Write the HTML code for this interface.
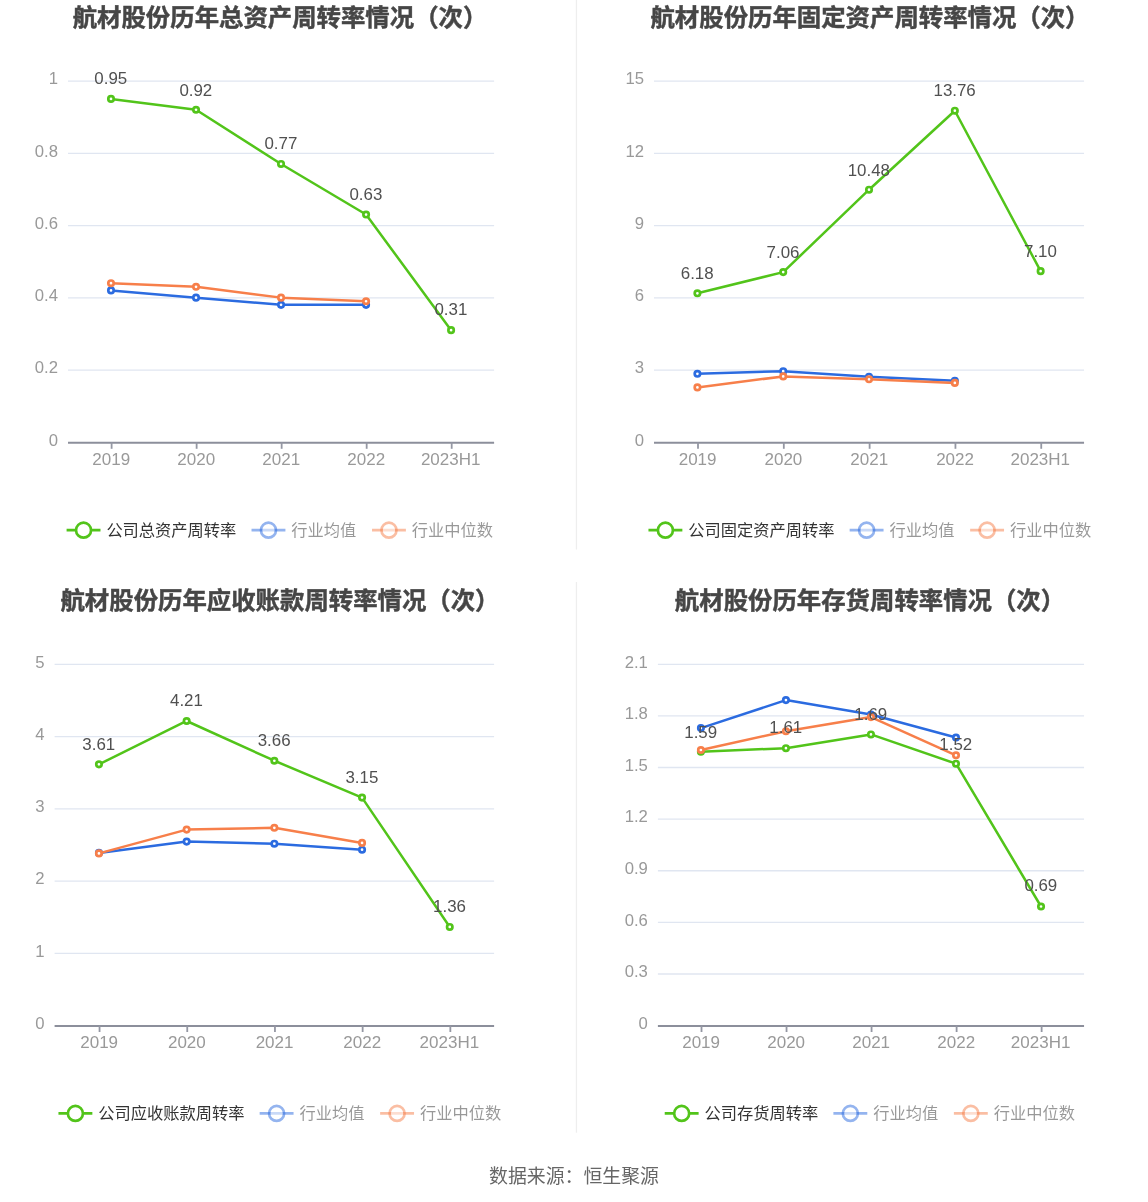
<!DOCTYPE html>
<html lang="zh-CN">
<head>
<meta charset="utf-8">
<title>航材股份历年周转率情况</title>
<style>
html,body{margin:0;padding:0;background:#fff;}
body{width:1148px;height:1202px;overflow:hidden;}
svg{display:block;font-family:"Liberation Sans", "Noto Sans CJK SC", sans-serif;}
</style>
</head>
<body>
<svg width="1148" height="1202" viewBox="0 0 1148 1202">
<rect width="1148" height="1202" fill="#fff"/>
<g>
<text x="280" y="25.7" text-anchor="middle" font-size="24.4" font-weight="bold" fill="#464646" stroke="#464646" stroke-width="0.45">航材股份历年总资产周转率情况（次）</text>
<text x="58.0" y="445.70" text-anchor="end" font-size="16.7" fill="#999">0</text>
<line x1="68.00" x2="494.10" y1="370.14" y2="370.14" stroke="#e0e6f1" stroke-width="1.35"/>
<text x="58.0" y="373.44" text-anchor="end" font-size="16.7" fill="#999">0.2</text>
<line x1="68.00" x2="494.10" y1="297.88" y2="297.88" stroke="#e0e6f1" stroke-width="1.35"/>
<text x="58.0" y="301.18" text-anchor="end" font-size="16.7" fill="#999">0.4</text>
<line x1="68.00" x2="494.10" y1="225.62" y2="225.62" stroke="#e0e6f1" stroke-width="1.35"/>
<text x="58.0" y="228.92" text-anchor="end" font-size="16.7" fill="#999">0.6</text>
<line x1="68.00" x2="494.10" y1="153.36" y2="153.36" stroke="#e0e6f1" stroke-width="1.35"/>
<text x="58.0" y="156.66" text-anchor="end" font-size="16.7" fill="#999">0.8</text>
<line x1="68.00" x2="494.10" y1="81.10" y2="81.10" stroke="#e0e6f1" stroke-width="1.35"/>
<text x="58.0" y="84.40" text-anchor="end" font-size="16.7" fill="#999">1</text>
<line x1="68.00" x2="494.10" y1="442.75" y2="442.75" stroke="#8c8f9b" stroke-width="2.0"/>
<line x1="111.61" x2="111.61" y1="442.40" y2="448.80" stroke="#9497a3" stroke-width="1.8"/>
<text x="111.21" y="464.65" text-anchor="middle" font-size="17" fill="#999">2019</text>
<line x1="196.63" x2="196.63" y1="442.40" y2="448.80" stroke="#9497a3" stroke-width="1.8"/>
<text x="196.23" y="464.65" text-anchor="middle" font-size="17" fill="#999">2020</text>
<line x1="281.65" x2="281.65" y1="442.40" y2="448.80" stroke="#9497a3" stroke-width="1.8"/>
<text x="281.25" y="464.65" text-anchor="middle" font-size="17" fill="#999">2021</text>
<line x1="366.67" x2="366.67" y1="442.40" y2="448.80" stroke="#9497a3" stroke-width="1.8"/>
<text x="366.27" y="464.65" text-anchor="middle" font-size="17" fill="#999">2022</text>
<line x1="451.69" x2="451.69" y1="442.40" y2="448.80" stroke="#9497a3" stroke-width="1.8"/>
<text x="450.69" y="464.65" text-anchor="middle" font-size="17" fill="#999">2023H1</text>
<polyline points="111.01,98.92 196.03,109.75 281.05,163.95 366.07,214.53 451.09,330.15" fill="none" stroke="#52c41a" stroke-width="2.5" stroke-linejoin="bevel"/>
<circle cx="111.01" cy="98.92" r="2.7" fill="#fff" stroke="#52c41a" stroke-width="2.7"/>
<circle cx="196.03" cy="109.75" r="2.7" fill="#fff" stroke="#52c41a" stroke-width="2.7"/>
<circle cx="281.05" cy="163.95" r="2.7" fill="#fff" stroke="#52c41a" stroke-width="2.7"/>
<circle cx="366.07" cy="214.53" r="2.7" fill="#fff" stroke="#52c41a" stroke-width="2.7"/>
<circle cx="451.09" cy="330.15" r="2.7" fill="#fff" stroke="#52c41a" stroke-width="2.7"/>
<polyline points="111.01,290.40 196.03,297.63 281.05,304.86 366.07,304.86" fill="none" stroke="#2b6be0" stroke-width="2.5" stroke-linejoin="bevel"/>
<circle cx="111.01" cy="290.40" r="2.7" fill="#fff" stroke="#2b6be0" stroke-width="2.7"/>
<circle cx="196.03" cy="297.63" r="2.7" fill="#fff" stroke="#2b6be0" stroke-width="2.7"/>
<circle cx="281.05" cy="304.86" r="2.7" fill="#fff" stroke="#2b6be0" stroke-width="2.7"/>
<circle cx="366.07" cy="304.86" r="2.7" fill="#fff" stroke="#2b6be0" stroke-width="2.7"/>
<polyline points="111.01,283.18 196.03,286.79 281.05,297.63 366.07,301.24" fill="none" stroke="#f77f4a" stroke-width="2.5" stroke-linejoin="bevel"/>
<circle cx="111.01" cy="283.18" r="2.7" fill="#fff" stroke="#f77f4a" stroke-width="2.7"/>
<circle cx="196.03" cy="286.79" r="2.7" fill="#fff" stroke="#f77f4a" stroke-width="2.7"/>
<circle cx="281.05" cy="297.63" r="2.7" fill="#fff" stroke="#f77f4a" stroke-width="2.7"/>
<circle cx="366.07" cy="301.24" r="2.7" fill="#fff" stroke="#f77f4a" stroke-width="2.7"/>
<text x="110.81" y="84.07" text-anchor="middle" font-size="16.9" fill="#505050">0.95</text>
<text x="195.83" y="95.60" text-anchor="middle" font-size="16.9" fill="#505050">0.92</text>
<text x="280.85" y="148.90" text-anchor="middle" font-size="16.9" fill="#505050">0.77</text>
<text x="365.87" y="200.08" text-anchor="middle" font-size="16.9" fill="#505050">0.63</text>
<text x="450.89" y="314.80" text-anchor="middle" font-size="16.9" fill="#505050">0.31</text>
<line x1="66.59" x2="100.49" y1="530.20" y2="530.20" stroke="#52c41a" stroke-width="2.7"/>
<circle cx="83.54" cy="530.20" r="7.5" fill="#fff" stroke="#52c41a" stroke-width="2.7"/>
<text x="106.39" y="536.10" font-size="16.26" fill="#333">公司总资产周转率</text>
<line x1="251.52" x2="285.42" y1="530.20" y2="530.20" stroke="#2b6be0" stroke-width="2.7" opacity="0.5"/>
<circle cx="268.47" cy="530.20" r="7.5" fill="#fff" stroke="#2b6be0" stroke-width="2.7" opacity="0.5"/>
<text x="291.32" y="536.10" font-size="16.26" fill="#333" opacity="0.5">行业均值</text>
<line x1="372.01" x2="405.91" y1="530.20" y2="530.20" stroke="#f77f4a" stroke-width="2.7" opacity="0.5"/>
<circle cx="388.96" cy="530.20" r="7.5" fill="#fff" stroke="#f77f4a" stroke-width="2.7" opacity="0.5"/>
<text x="411.81" y="536.10" font-size="16.26" fill="#333" opacity="0.5">行业中位数</text>
</g>
<g>
<text x="870" y="25.7" text-anchor="middle" font-size="24.4" font-weight="bold" fill="#464646" stroke="#464646" stroke-width="0.45">航材股份历年固定资产周转率情况（次）</text>
<text x="644.0" y="445.70" text-anchor="end" font-size="16.7" fill="#999">0</text>
<line x1="654.00" x2="1084.05" y1="370.14" y2="370.14" stroke="#e0e6f1" stroke-width="1.35"/>
<text x="644.0" y="373.44" text-anchor="end" font-size="16.7" fill="#999">3</text>
<line x1="654.00" x2="1084.05" y1="297.88" y2="297.88" stroke="#e0e6f1" stroke-width="1.35"/>
<text x="644.0" y="301.18" text-anchor="end" font-size="16.7" fill="#999">6</text>
<line x1="654.00" x2="1084.05" y1="225.62" y2="225.62" stroke="#e0e6f1" stroke-width="1.35"/>
<text x="644.0" y="228.92" text-anchor="end" font-size="16.7" fill="#999">9</text>
<line x1="654.00" x2="1084.05" y1="153.36" y2="153.36" stroke="#e0e6f1" stroke-width="1.35"/>
<text x="644.0" y="156.66" text-anchor="end" font-size="16.7" fill="#999">12</text>
<line x1="654.00" x2="1084.05" y1="81.10" y2="81.10" stroke="#e0e6f1" stroke-width="1.35"/>
<text x="644.0" y="84.40" text-anchor="end" font-size="16.7" fill="#999">15</text>
<line x1="654.00" x2="1084.05" y1="442.75" y2="442.75" stroke="#8c8f9b" stroke-width="2.0"/>
<line x1="698.00" x2="698.00" y1="442.40" y2="448.80" stroke="#9497a3" stroke-width="1.8"/>
<text x="697.61" y="464.65" text-anchor="middle" font-size="17" fill="#999">2019</text>
<line x1="783.81" x2="783.81" y1="442.40" y2="448.80" stroke="#9497a3" stroke-width="1.8"/>
<text x="783.41" y="464.65" text-anchor="middle" font-size="17" fill="#999">2020</text>
<line x1="869.62" x2="869.62" y1="442.40" y2="448.80" stroke="#9497a3" stroke-width="1.8"/>
<text x="869.23" y="464.65" text-anchor="middle" font-size="17" fill="#999">2021</text>
<line x1="955.44" x2="955.44" y1="442.40" y2="448.80" stroke="#9497a3" stroke-width="1.8"/>
<text x="955.04" y="464.65" text-anchor="middle" font-size="17" fill="#999">2022</text>
<line x1="1041.24" x2="1041.24" y1="442.40" y2="448.80" stroke="#9497a3" stroke-width="1.8"/>
<text x="1040.25" y="464.65" text-anchor="middle" font-size="17" fill="#999">2023H1</text>
<polyline points="697.40,293.29 783.21,272.10 869.02,189.72 954.84,110.72 1040.64,271.13" fill="none" stroke="#52c41a" stroke-width="2.5" stroke-linejoin="bevel"/>
<circle cx="697.40" cy="293.29" r="2.7" fill="#fff" stroke="#52c41a" stroke-width="2.7"/>
<circle cx="783.21" cy="272.10" r="2.7" fill="#fff" stroke="#52c41a" stroke-width="2.7"/>
<circle cx="869.02" cy="189.72" r="2.7" fill="#fff" stroke="#52c41a" stroke-width="2.7"/>
<circle cx="954.84" cy="110.72" r="2.7" fill="#fff" stroke="#52c41a" stroke-width="2.7"/>
<circle cx="1040.64" cy="271.13" r="2.7" fill="#fff" stroke="#52c41a" stroke-width="2.7"/>
<polyline points="697.40,373.80 783.21,371.20 869.02,376.70 954.84,380.80" fill="none" stroke="#2b6be0" stroke-width="2.5" stroke-linejoin="bevel"/>
<circle cx="697.40" cy="373.80" r="2.7" fill="#fff" stroke="#2b6be0" stroke-width="2.7"/>
<circle cx="783.21" cy="371.20" r="2.7" fill="#fff" stroke="#2b6be0" stroke-width="2.7"/>
<circle cx="869.02" cy="376.70" r="2.7" fill="#fff" stroke="#2b6be0" stroke-width="2.7"/>
<circle cx="954.84" cy="380.80" r="2.7" fill="#fff" stroke="#2b6be0" stroke-width="2.7"/>
<polyline points="697.40,387.40 783.21,376.40 869.02,379.30 954.84,382.90" fill="none" stroke="#f77f4a" stroke-width="2.5" stroke-linejoin="bevel"/>
<circle cx="697.40" cy="387.40" r="2.7" fill="#fff" stroke="#f77f4a" stroke-width="2.7"/>
<circle cx="783.21" cy="376.40" r="2.7" fill="#fff" stroke="#f77f4a" stroke-width="2.7"/>
<circle cx="869.02" cy="379.30" r="2.7" fill="#fff" stroke="#f77f4a" stroke-width="2.7"/>
<circle cx="954.84" cy="382.90" r="2.7" fill="#fff" stroke="#f77f4a" stroke-width="2.7"/>
<text x="697.20" y="278.64" text-anchor="middle" font-size="16.9" fill="#505050">6.18</text>
<text x="783.01" y="257.65" text-anchor="middle" font-size="16.9" fill="#505050">7.06</text>
<text x="868.82" y="175.67" text-anchor="middle" font-size="16.9" fill="#505050">10.48</text>
<text x="954.63" y="96.37" text-anchor="middle" font-size="16.9" fill="#505050">13.76</text>
<text x="1040.44" y="256.58" text-anchor="middle" font-size="16.9" fill="#505050">7.10</text>
<line x1="648.46" x2="682.36" y1="530.20" y2="530.20" stroke="#52c41a" stroke-width="2.7"/>
<circle cx="665.41" cy="530.20" r="7.5" fill="#fff" stroke="#52c41a" stroke-width="2.7"/>
<text x="688.26" y="536.10" font-size="16.26" fill="#333">公司固定资产周转率</text>
<line x1="849.65" x2="883.55" y1="530.20" y2="530.20" stroke="#2b6be0" stroke-width="2.7" opacity="0.5"/>
<circle cx="866.60" cy="530.20" r="7.5" fill="#fff" stroke="#2b6be0" stroke-width="2.7" opacity="0.5"/>
<text x="889.45" y="536.10" font-size="16.26" fill="#333" opacity="0.5">行业均值</text>
<line x1="970.14" x2="1004.04" y1="530.20" y2="530.20" stroke="#f77f4a" stroke-width="2.7" opacity="0.5"/>
<circle cx="987.09" cy="530.20" r="7.5" fill="#fff" stroke="#f77f4a" stroke-width="2.7" opacity="0.5"/>
<text x="1009.94" y="536.10" font-size="16.26" fill="#333" opacity="0.5">行业中位数</text>
</g>
<g>
<text x="280" y="608.9" text-anchor="middle" font-size="24.4" font-weight="bold" fill="#464646" stroke="#464646" stroke-width="0.45">航材股份历年应收账款周转率情况（次）</text>
<text x="44.6" y="1028.90" text-anchor="end" font-size="16.7" fill="#999">0</text>
<line x1="54.60" x2="494.10" y1="953.34" y2="953.34" stroke="#e0e6f1" stroke-width="1.35"/>
<text x="44.6" y="956.64" text-anchor="end" font-size="16.7" fill="#999">1</text>
<line x1="54.60" x2="494.10" y1="881.08" y2="881.08" stroke="#e0e6f1" stroke-width="1.35"/>
<text x="44.6" y="884.38" text-anchor="end" font-size="16.7" fill="#999">2</text>
<line x1="54.60" x2="494.10" y1="808.82" y2="808.82" stroke="#e0e6f1" stroke-width="1.35"/>
<text x="44.6" y="812.12" text-anchor="end" font-size="16.7" fill="#999">3</text>
<line x1="54.60" x2="494.10" y1="736.56" y2="736.56" stroke="#e0e6f1" stroke-width="1.35"/>
<text x="44.6" y="739.86" text-anchor="end" font-size="16.7" fill="#999">4</text>
<line x1="54.60" x2="494.10" y1="664.30" y2="664.30" stroke="#e0e6f1" stroke-width="1.35"/>
<text x="44.6" y="667.60" text-anchor="end" font-size="16.7" fill="#999">5</text>
<line x1="54.60" x2="494.10" y1="1025.95" y2="1025.95" stroke="#8c8f9b" stroke-width="2.0"/>
<line x1="99.55" x2="99.55" y1="1025.60" y2="1032.00" stroke="#9497a3" stroke-width="1.8"/>
<text x="99.15" y="1047.85" text-anchor="middle" font-size="17" fill="#999">2019</text>
<line x1="187.25" x2="187.25" y1="1025.60" y2="1032.00" stroke="#9497a3" stroke-width="1.8"/>
<text x="186.85" y="1047.85" text-anchor="middle" font-size="17" fill="#999">2020</text>
<line x1="274.95" x2="274.95" y1="1025.60" y2="1032.00" stroke="#9497a3" stroke-width="1.8"/>
<text x="274.55" y="1047.85" text-anchor="middle" font-size="17" fill="#999">2021</text>
<line x1="362.65" x2="362.65" y1="1025.60" y2="1032.00" stroke="#9497a3" stroke-width="1.8"/>
<text x="362.25" y="1047.85" text-anchor="middle" font-size="17" fill="#999">2022</text>
<line x1="450.35" x2="450.35" y1="1025.60" y2="1032.00" stroke="#9497a3" stroke-width="1.8"/>
<text x="449.35" y="1047.85" text-anchor="middle" font-size="17" fill="#999">2023H1</text>
<polyline points="98.95,764.34 186.65,720.99 274.35,760.73 362.05,797.58 449.75,926.93" fill="none" stroke="#52c41a" stroke-width="2.5" stroke-linejoin="bevel"/>
<circle cx="98.95" cy="764.34" r="2.7" fill="#fff" stroke="#52c41a" stroke-width="2.7"/>
<circle cx="186.65" cy="720.99" r="2.7" fill="#fff" stroke="#52c41a" stroke-width="2.7"/>
<circle cx="274.35" cy="760.73" r="2.7" fill="#fff" stroke="#52c41a" stroke-width="2.7"/>
<circle cx="362.05" cy="797.58" r="2.7" fill="#fff" stroke="#52c41a" stroke-width="2.7"/>
<circle cx="449.75" cy="926.93" r="2.7" fill="#fff" stroke="#52c41a" stroke-width="2.7"/>
<polyline points="98.95,852.90 186.65,841.60 274.35,843.70 362.05,849.70" fill="none" stroke="#2b6be0" stroke-width="2.5" stroke-linejoin="bevel"/>
<circle cx="98.95" cy="852.90" r="2.7" fill="#fff" stroke="#2b6be0" stroke-width="2.7"/>
<circle cx="186.65" cy="841.60" r="2.7" fill="#fff" stroke="#2b6be0" stroke-width="2.7"/>
<circle cx="274.35" cy="843.70" r="2.7" fill="#fff" stroke="#2b6be0" stroke-width="2.7"/>
<circle cx="362.05" cy="849.70" r="2.7" fill="#fff" stroke="#2b6be0" stroke-width="2.7"/>
<polyline points="98.95,853.40 186.65,829.60 274.35,827.80 362.05,842.90" fill="none" stroke="#f77f4a" stroke-width="2.5" stroke-linejoin="bevel"/>
<circle cx="98.95" cy="853.40" r="2.7" fill="#fff" stroke="#f77f4a" stroke-width="2.7"/>
<circle cx="186.65" cy="829.60" r="2.7" fill="#fff" stroke="#f77f4a" stroke-width="2.7"/>
<circle cx="274.35" cy="827.80" r="2.7" fill="#fff" stroke="#f77f4a" stroke-width="2.7"/>
<circle cx="362.05" cy="842.90" r="2.7" fill="#fff" stroke="#f77f4a" stroke-width="2.7"/>
<text x="98.75" y="749.54" text-anchor="middle" font-size="16.9" fill="#505050">3.61</text>
<text x="186.45" y="706.09" text-anchor="middle" font-size="16.9" fill="#505050">4.21</text>
<text x="274.15" y="745.73" text-anchor="middle" font-size="16.9" fill="#505050">3.66</text>
<text x="361.85" y="783.28" text-anchor="middle" font-size="16.9" fill="#505050">3.15</text>
<text x="449.55" y="911.93" text-anchor="middle" font-size="16.9" fill="#505050">1.36</text>
<line x1="58.46" x2="92.36" y1="1113.40" y2="1113.40" stroke="#52c41a" stroke-width="2.7"/>
<circle cx="75.41" cy="1113.40" r="7.5" fill="#fff" stroke="#52c41a" stroke-width="2.7"/>
<text x="98.26" y="1119.30" font-size="16.26" fill="#333">公司应收账款周转率</text>
<line x1="259.65" x2="293.55" y1="1113.40" y2="1113.40" stroke="#2b6be0" stroke-width="2.7" opacity="0.5"/>
<circle cx="276.60" cy="1113.40" r="7.5" fill="#fff" stroke="#2b6be0" stroke-width="2.7" opacity="0.5"/>
<text x="299.45" y="1119.30" font-size="16.26" fill="#333" opacity="0.5">行业均值</text>
<line x1="380.14" x2="414.04" y1="1113.40" y2="1113.40" stroke="#f77f4a" stroke-width="2.7" opacity="0.5"/>
<circle cx="397.09" cy="1113.40" r="7.5" fill="#fff" stroke="#f77f4a" stroke-width="2.7" opacity="0.5"/>
<text x="419.94" y="1119.30" font-size="16.26" fill="#333" opacity="0.5">行业中位数</text>
</g>
<g>
<text x="870" y="608.9" text-anchor="middle" font-size="24.4" font-weight="bold" fill="#464646" stroke="#464646" stroke-width="0.45">航材股份历年存货周转率情况（次）</text>
<text x="647.9" y="1028.90" text-anchor="end" font-size="16.7" fill="#999">0</text>
<line x1="657.90" x2="1084.05" y1="973.99" y2="973.99" stroke="#e0e6f1" stroke-width="1.35"/>
<text x="647.9" y="977.29" text-anchor="end" font-size="16.7" fill="#999">0.3</text>
<line x1="657.90" x2="1084.05" y1="922.37" y2="922.37" stroke="#e0e6f1" stroke-width="1.35"/>
<text x="647.9" y="925.67" text-anchor="end" font-size="16.7" fill="#999">0.6</text>
<line x1="657.90" x2="1084.05" y1="870.76" y2="870.76" stroke="#e0e6f1" stroke-width="1.35"/>
<text x="647.9" y="874.06" text-anchor="end" font-size="16.7" fill="#999">0.9</text>
<line x1="657.90" x2="1084.05" y1="819.14" y2="819.14" stroke="#e0e6f1" stroke-width="1.35"/>
<text x="647.9" y="822.44" text-anchor="end" font-size="16.7" fill="#999">1.2</text>
<line x1="657.90" x2="1084.05" y1="767.53" y2="767.53" stroke="#e0e6f1" stroke-width="1.35"/>
<text x="647.9" y="770.83" text-anchor="end" font-size="16.7" fill="#999">1.5</text>
<line x1="657.90" x2="1084.05" y1="715.91" y2="715.91" stroke="#e0e6f1" stroke-width="1.35"/>
<text x="647.9" y="719.21" text-anchor="end" font-size="16.7" fill="#999">1.8</text>
<line x1="657.90" x2="1084.05" y1="664.30" y2="664.30" stroke="#e0e6f1" stroke-width="1.35"/>
<text x="647.9" y="667.60" text-anchor="end" font-size="16.7" fill="#999">2.1</text>
<line x1="657.90" x2="1084.05" y1="1025.95" y2="1025.95" stroke="#8c8f9b" stroke-width="2.0"/>
<line x1="701.51" x2="701.51" y1="1025.60" y2="1032.00" stroke="#9497a3" stroke-width="1.8"/>
<text x="701.12" y="1047.85" text-anchor="middle" font-size="17" fill="#999">2019</text>
<line x1="786.54" x2="786.54" y1="1025.60" y2="1032.00" stroke="#9497a3" stroke-width="1.8"/>
<text x="786.14" y="1047.85" text-anchor="middle" font-size="17" fill="#999">2020</text>
<line x1="871.57" x2="871.57" y1="1025.60" y2="1032.00" stroke="#9497a3" stroke-width="1.8"/>
<text x="871.17" y="1047.85" text-anchor="middle" font-size="17" fill="#999">2021</text>
<line x1="956.61" x2="956.61" y1="1025.60" y2="1032.00" stroke="#9497a3" stroke-width="1.8"/>
<text x="956.21" y="1047.85" text-anchor="middle" font-size="17" fill="#999">2022</text>
<line x1="1041.63" x2="1041.63" y1="1025.60" y2="1032.00" stroke="#9497a3" stroke-width="1.8"/>
<text x="1040.63" y="1047.85" text-anchor="middle" font-size="17" fill="#999">2023H1</text>
<polyline points="700.91,751.64 785.94,748.20 870.97,734.44 956.00,763.69 1041.03,906.49" fill="none" stroke="#52c41a" stroke-width="2.5" stroke-linejoin="bevel"/>
<circle cx="700.91" cy="751.64" r="2.7" fill="#fff" stroke="#52c41a" stroke-width="2.7"/>
<circle cx="785.94" cy="748.20" r="2.7" fill="#fff" stroke="#52c41a" stroke-width="2.7"/>
<circle cx="870.97" cy="734.44" r="2.7" fill="#fff" stroke="#52c41a" stroke-width="2.7"/>
<circle cx="956.00" cy="763.69" r="2.7" fill="#fff" stroke="#52c41a" stroke-width="2.7"/>
<circle cx="1041.03" cy="906.49" r="2.7" fill="#fff" stroke="#52c41a" stroke-width="2.7"/>
<polyline points="700.91,728.10 785.94,700.10 870.97,714.50 956.00,737.50" fill="none" stroke="#2b6be0" stroke-width="2.5" stroke-linejoin="bevel"/>
<circle cx="700.91" cy="728.10" r="2.7" fill="#fff" stroke="#2b6be0" stroke-width="2.7"/>
<circle cx="785.94" cy="700.10" r="2.7" fill="#fff" stroke="#2b6be0" stroke-width="2.7"/>
<circle cx="870.97" cy="714.50" r="2.7" fill="#fff" stroke="#2b6be0" stroke-width="2.7"/>
<circle cx="956.00" cy="737.50" r="2.7" fill="#fff" stroke="#2b6be0" stroke-width="2.7"/>
<polyline points="700.91,750.00 785.94,731.20 870.97,717.10 956.00,755.30" fill="none" stroke="#f77f4a" stroke-width="2.5" stroke-linejoin="bevel"/>
<circle cx="700.91" cy="750.00" r="2.7" fill="#fff" stroke="#f77f4a" stroke-width="2.7"/>
<circle cx="785.94" cy="731.20" r="2.7" fill="#fff" stroke="#f77f4a" stroke-width="2.7"/>
<circle cx="870.97" cy="717.10" r="2.7" fill="#fff" stroke="#f77f4a" stroke-width="2.7"/>
<circle cx="956.00" cy="755.30" r="2.7" fill="#fff" stroke="#f77f4a" stroke-width="2.7"/>
<text x="700.71" y="737.64" text-anchor="middle" font-size="16.9" fill="#505050">1.59</text>
<text x="785.74" y="733.40" text-anchor="middle" font-size="16.9" fill="#505050">1.61</text>
<text x="870.77" y="720.24" text-anchor="middle" font-size="16.9" fill="#505050">1.69</text>
<text x="955.80" y="749.59" text-anchor="middle" font-size="16.9" fill="#505050">1.52</text>
<text x="1040.83" y="891.29" text-anchor="middle" font-size="16.9" fill="#505050">0.69</text>
<line x1="664.72" x2="698.62" y1="1113.40" y2="1113.40" stroke="#52c41a" stroke-width="2.7"/>
<circle cx="681.67" cy="1113.40" r="7.5" fill="#fff" stroke="#52c41a" stroke-width="2.7"/>
<text x="704.52" y="1119.30" font-size="16.26" fill="#333">公司存货周转率</text>
<line x1="833.39" x2="867.29" y1="1113.40" y2="1113.40" stroke="#2b6be0" stroke-width="2.7" opacity="0.5"/>
<circle cx="850.34" cy="1113.40" r="7.5" fill="#fff" stroke="#2b6be0" stroke-width="2.7" opacity="0.5"/>
<text x="873.19" y="1119.30" font-size="16.26" fill="#333" opacity="0.5">行业均值</text>
<line x1="953.88" x2="987.78" y1="1113.40" y2="1113.40" stroke="#f77f4a" stroke-width="2.7" opacity="0.5"/>
<circle cx="970.83" cy="1113.40" r="7.5" fill="#fff" stroke="#f77f4a" stroke-width="2.7" opacity="0.5"/>
<text x="993.68" y="1119.30" font-size="16.26" fill="#333" opacity="0.5">行业中位数</text>
</g>
<rect x="575.8" y="0" width="1.3" height="549.5" fill="#eee"/>
<rect x="575.8" y="582" width="1.3" height="550.7" fill="#eee"/>
<text x="574" y="1182.9" text-anchor="middle" font-size="18.9" fill="#666">数据来源：恒生聚源</text>
</svg>
</body>
</html>
